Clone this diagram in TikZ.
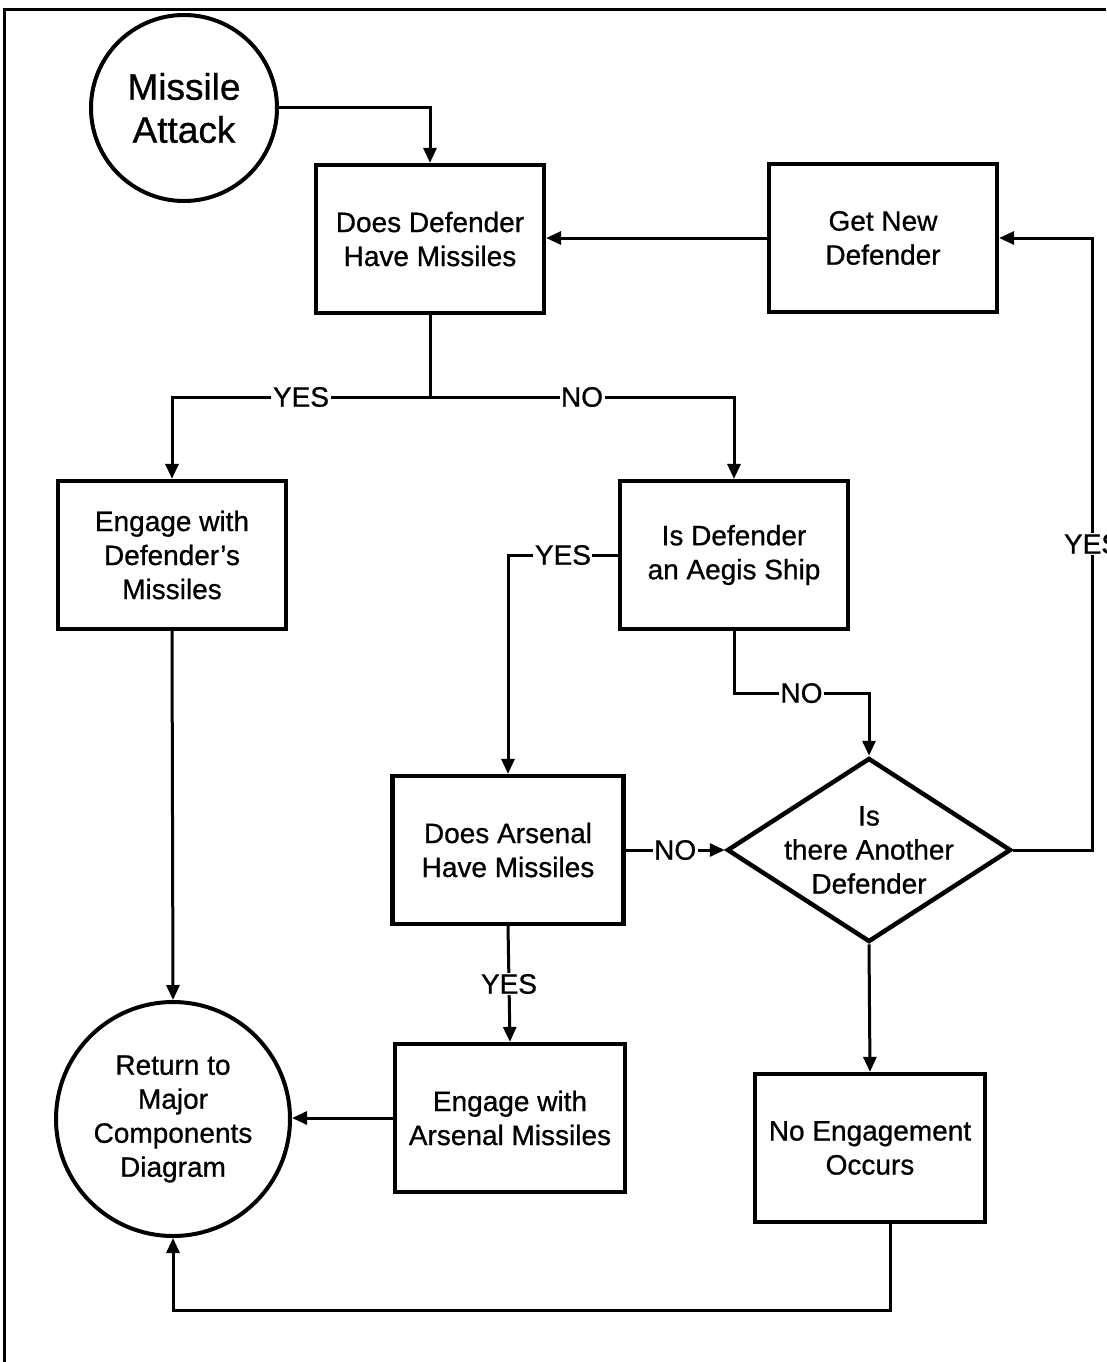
\documentclass[tikz,border=0pt]{standalone}
\usepackage{fontspec}
\setmainfont{Liberation Sans}[FakeBold=0.8]
\usetikzlibrary{arrows.meta,shapes.geometric}
\tikzset{
  txt/.style={font=\fontsize{28}{34}\selectfont, align=center, inner sep=0pt},
  stepbox/.style={txt, draw, line width=4.2pt, minimum width=228pt, minimum height=148pt},
  circbox/.style={txt, draw, circle, line width=4pt},
  diabox/.style={draw, diamond, line width=4.5pt, minimum width=284pt, minimum height=184pt, inner sep=0pt},
  plain/.style={line width=3pt},
  conn/.style={line width=3pt, -{Triangle[length=15pt,width=13pt]}},
  lbl/.style={txt, fill=white, inner sep=1.5pt}
}
\begin{document}
\begin{tikzpicture}[x=1pt,y=-1pt]
\useasboundingbox (0,0) rectangle (1106,1362);
\fill[white] (0,0) rectangle (1106,1362);
% frame
\draw[line width=3pt] (4,1362) -- (4,10) -- (1106,10);

% nodes
\node[circbox, minimum size=186pt, font=\fontsize{37}{43}\selectfont] (attack) at (184,108) {Missile\\Attack};
\node[stepbox] (q1) at (430,239) {Does Defender\\Have Missiles};
\node[stepbox] (newdef) at (883,238) {Get New\\Defender};
\node[stepbox] (engdef) at (172,555) {Engage with\\Defender's\\Missiles};
\node[stepbox] (aegis) at (734,555) {Is Defender\\an Aegis Ship};
\node[stepbox, minimum width=231pt] (arsenal) at (508,850) {Does Arsenal\\Have Missiles};
\node[diabox] (another) at (869,850) {};
\node[txt] (anothertext) at (another.center) {Is\\there Another\\Defender};
\node[stepbox, minimum width=230pt] (engars) at (510,1118) {Engage with\\Arsenal Missiles};
\node[stepbox, minimum width=230pt] (noeng) at (870,1148) {No Engagement\\Occurs};
\node[circbox, minimum size=234pt] (return) at (173,1119) {Return to\\Major\\Components\\Diagram};

\coordinate (split) at (430,397);
\coordinate (rt) at (1092,850);

% connectors
\draw[conn] (attack.east) -| (q1.north);
\draw[conn] (newdef.west) -- (newdef.west -| q1.east);
\draw[plain] (q1.south) -- (split);
\draw[conn] (split) -| node[lbl, pos=0.25] {YES} (engdef.north);
\draw[conn] (split) -| node[lbl, pos=0.25] {NO} (aegis.north);
\draw[conn] (aegis.west) -| node[lbl, pos=0.25] {YES} (arsenal.north);
\draw[conn] (aegis.south) -- ++(0,62) -| node[lbl, pos=0.25] {NO} (another.north);
\draw[conn] (arsenal.east) -- node[lbl] {NO} (another.west);
\draw[conn] (another.east) -- (rt) |- node[lbl, pos=0.25] {YES} (newdef.east);
\draw[conn] (arsenal.south) -- node[lbl] {YES} (engars.north);
\draw[conn] (engars.west) -- (engars.west -| return.east);
\draw[conn] (engdef.south) -- (return.north);
\draw[conn] (another.south) -- (noeng.north);
\draw[conn] ([xshift=20pt]noeng.south) -- ++(0,86) -| (return.south);
\end{tikzpicture}
\end{document}
